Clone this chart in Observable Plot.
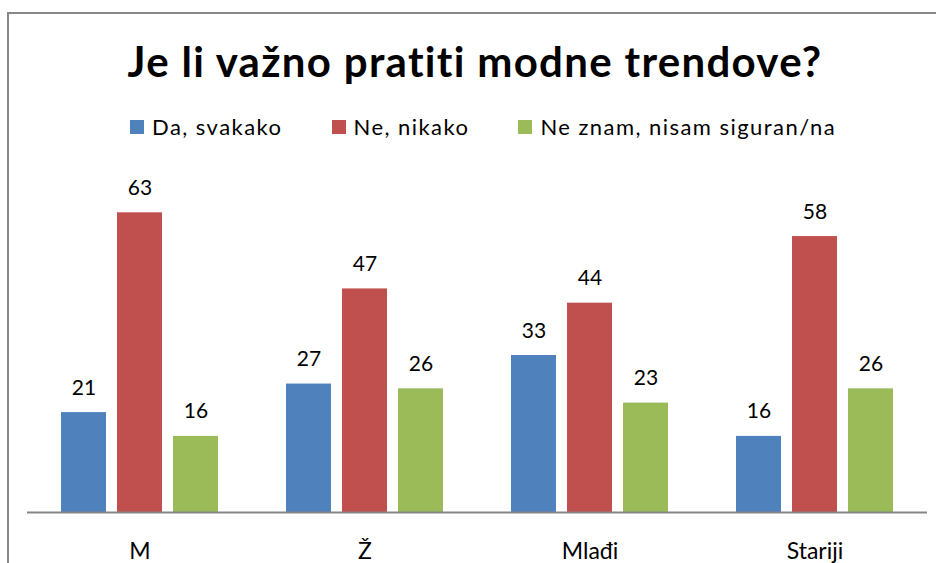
<!DOCTYPE html>
<html>
<head>
<meta charset="utf-8">
<script src="https://cdn.jsdelivr.net/npm/d3@7"></script>
<script src="https://cdn.jsdelivr.net/npm/@observablehq/plot@0.6"></script>
<style>
  html, body { margin: 0; padding: 0; background: #fff; }
  #wrap { position: relative; width: 936px; height: 563px; overflow: hidden; background: #fff; font-family: Lato, "Open Sans", sans-serif; color: #000; }
  #border { position: absolute; left: 7px; top: 12px; width: 960px; height: 600px; border: 2px solid #878787; box-sizing: border-box; }
  #title { position: absolute; left: 14px; width: 922px; top: 40px; text-align: center; font-weight: 700; font-size: 42px; line-height: 42px; letter-spacing: 1.3px; white-space: nowrap; }
  #legend { position: absolute; left: 130px; top: 116px; display: flex; align-items: center; font-size: 22px; line-height: 22px; white-space: nowrap; letter-spacing: 1.45px; }
  .item { display: flex; align-items: center; margin-right: 49px; }
  .sw { width: 14px; height: 14px; margin-right: 8px; }
  #chart { position: absolute; left: 0; top: 150px; }
</style>
</head>
<body>
<div id="wrap">
  <div id="border"></div>
  <div id="title"></div>
  <div id="legend"></div>
  <div id="chart"></div>
</div>
<script>
const title = "Je li važno pratiti modne trendove?";
const categories = ["M", "Ž", "Mlađi", "Stariji"];
const seriesNames = ["Da, svakako", "Ne, nikako", "Ne znam, nisam siguran/na"];
const seriesColors = ["#4F81BD", "#C0504D", "#9BBB59"];
const daSvakako = [21, 27, 33, 16];
const neNikako = [63, 47, 44, 58];
const neZnam = [16, 26, 23, 26];

const seriesValues = [daSvakako, neNikako, neZnam];
const data = [];
categories.forEach((c, i) => {
  seriesNames.forEach((s, j) => data.push({cat: c, series: s, value: seriesValues[j][i]}));
});

document.getElementById("title").textContent = title;
const legend = document.getElementById("legend");
seriesNames.forEach((s, j) => {
  const it = document.createElement("div");
  it.className = "item";
  const sw = document.createElement("div");
  sw.className = "sw";
  sw.style.background = seriesColors[j];
  const tx = document.createElement("span");
  tx.textContent = s;
  it.appendChild(sw); it.appendChild(tx);
  legend.appendChild(it);
});

const chart = Plot.plot({
  width: 936,
  height: 413,
  marginLeft: 27,
  marginRight: 9,
  marginTop: 29,
  marginBottom: 51,
  style: {fontFamily: "Lato, 'Open Sans', sans-serif", color: "#000", background: "transparent"},
  fx: {domain: categories, padding: 0, label: null},
  x: {domain: seriesNames, paddingInner: 0.2035, paddingOuter: 0.588, axis: null},
  y: {domain: [0, 70], axis: null},
  color: {domain: seriesNames, range: seriesColors},
  marks: [
    Plot.barY(data, {fx: "cat", x: "series", y: "value", fill: "series"}),
    Plot.ruleY([0], {stroke: "#868686", strokeWidth: 2}),
    Plot.text(data, {fx: "cat", x: "series", y: "value", text: d => String(d.value), dy: -18, lineAnchor: "bottom", fontSize: 21, fill: "#000"}),
    Plot.axisFx({anchor: "bottom", tickSize: 0, tickPadding: 30, fontSize: 23, fill: "#000", label: null})
  ]
});
document.getElementById("chart").appendChild(chart);
</script>
</body>
</html>
